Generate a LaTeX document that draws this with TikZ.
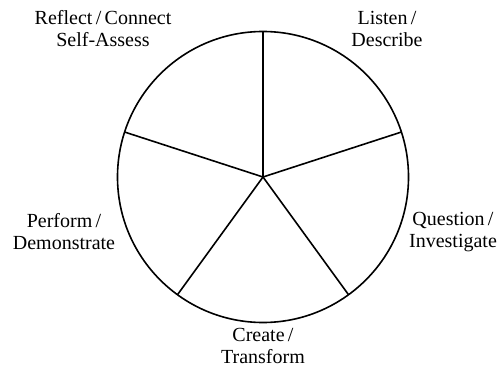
\documentclass[tikz,border=0pt]{standalone}
\usepackage{fontspec}
\setmainfont{Liberation Serif}
\tikzset{
  ring/.style={line width=1.6pt, draw=black},
  spoke/.style={line width=1.6pt, draw=black},
  lbl/.style={align=center, inner sep=0pt, font=\fontsize{20}{22}\selectfont}
}
\begin{document}
\begin{tikzpicture}[x=1pt,y=-1pt]
\useasboundingbox (0,0) rectangle (500,371);
\coordinate (c) at (263,177);
\draw[ring] (c) circle (145.5pt);
\foreach \a/\n in {90/p1,18/p2,-54/p3,-126/p4,162/p5}{
  \coordinate (\n) at ([shift={(\a:145.5pt)}]c);
  \draw[spoke] (c) -- (\n);
}
\node[lbl] (reflect) at (103,29) {Reflect\,/\,Connect\\Self-Assess};
\node[lbl] (listen) at (387,29) {Listen\,/\\Describe};
\node[lbl] (question) at (453,232) {Question\,/\\Investigate};
\node[lbl] (perform) at (64,232) {Perform\,/\\Demonstrate};
\node[lbl] (create) at (263,346) {Create\,/\\Transform};
\end{tikzpicture}
\end{document}
